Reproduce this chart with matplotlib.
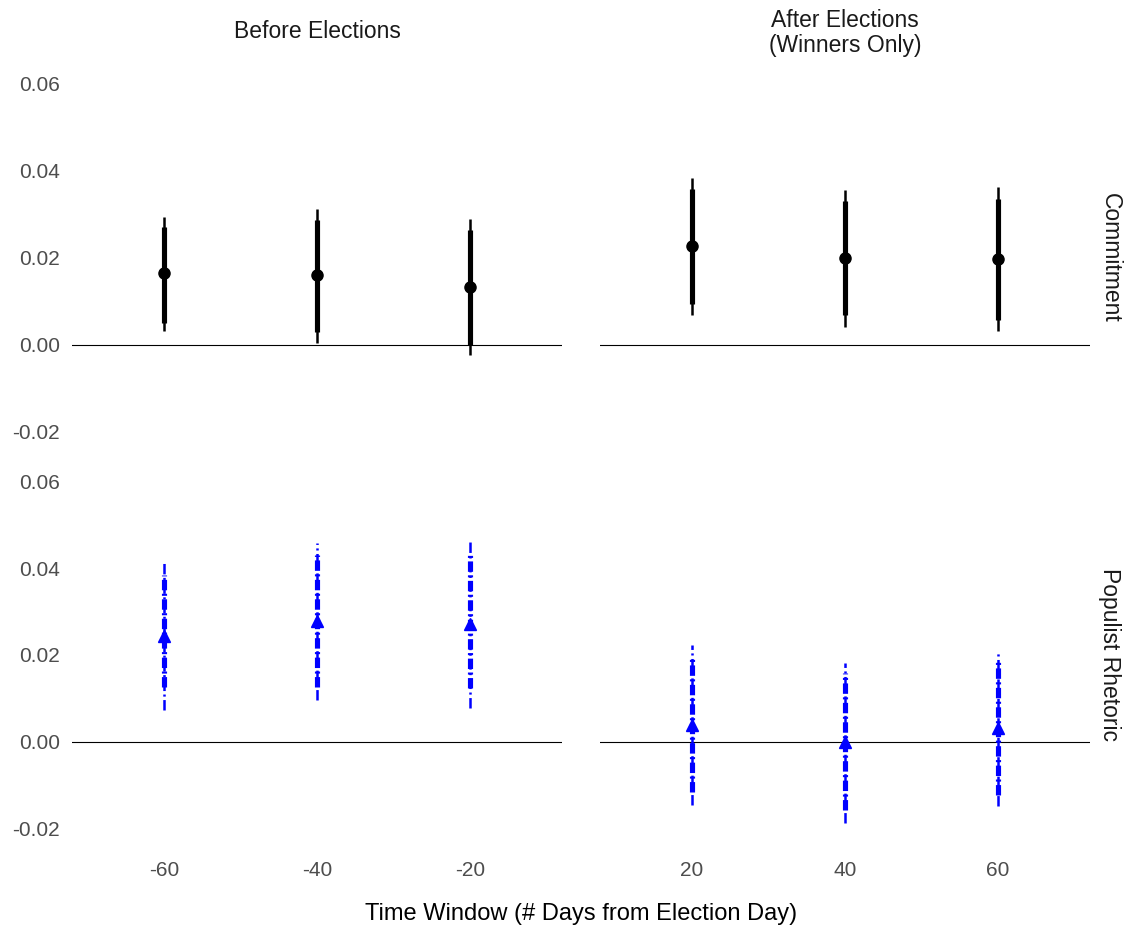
import matplotlib
matplotlib.use("Agg")
import matplotlib.pyplot as plt

plt.rcParams['font.family'] = ['Liberation Sans', 'DejaVu Sans']
plt.rcParams['lines.scale_dashes'] = False

# datos
dias_antes = [-60, -40, -20]
dias_despues = [20, 40, 60]

# Commitment: estimacion, IC interno (bajo, alto), IC externo (bajo, alto)
com_antes = [0.0165, 0.0161, 0.0133]
com_antes_in = [(0.0051, 0.0271), (0.0030, 0.0287), (0.0000, 0.0264)]
com_antes_out = [(0.0032, 0.0294), (0.0005, 0.0313), (-0.0023, 0.0290)]
com_despues = [0.0228, 0.0200, 0.0198]
com_despues_in = [(0.0094, 0.0359), (0.0069, 0.0331), (0.0057, 0.0336)]
com_despues_out = [(0.0069, 0.0384), (0.0041, 0.0356), (0.0032, 0.0363)]

# Populist Rhetoric
pop_antes = [0.0244, 0.0278, 0.0272]
pop_antes_in = [(0.0126, 0.0384), (0.0126, 0.0430), (0.0124, 0.0434)]
pop_antes_out = [(0.0074, 0.0411), (0.0097, 0.0457), (0.0078, 0.0460)]
pop_despues = [0.0039, 0.0000, 0.0032]
pop_despues_in = [(-0.0115, 0.0196), (-0.0156, 0.0159), (-0.0122, 0.0184)]
pop_despues_out = [(-0.0145, 0.0223), (-0.0186, 0.0182), (-0.0149, 0.0207)]

y_ticks = [-0.02, 0.00, 0.02, 0.04, 0.06]
y_labels = ["-0.02", "0.00", "0.02", "0.04", "0.06"]

fig = plt.figure(figsize=(11.29, 9.34), dpi=100)

W, H = 1129, 934
def caja(x0, x1, y0, y1):
    return [x0 / W, 1 - y1 / H, (x1 - x0) / W, (y1 - y0) / H]

ax_tl = fig.add_axes(caja(72, 562, 66.6, 449))
ax_tr = fig.add_axes(caja(600, 1090, 66.6, 449))
ax_bl = fig.add_axes(caja(72, 562, 464, 846))
ax_br = fig.add_axes(caja(600, 1090, 464, 846))

patron = (0, (7.5, 2.5, 1.5, 2.5))

def panel(ax, x, est, ic_in, ic_out, color, marker, ms, estilo):
    ax.axhline(0, color='black', linewidth=0.8, zorder=1)
    for xi, e, (a, b), (c, d) in zip(x, est, ic_in, ic_out):
        ax.plot([xi, xi], [c, d], color=color, linewidth=1.8, linestyle=estilo,
                solid_capstyle='butt', dash_capstyle='butt', zorder=2)
        ax.plot([xi, xi], [a, b], color=color, linewidth=3.7, linestyle=estilo,
                solid_capstyle='butt', dash_capstyle='butt', zorder=3)
        ax.plot(xi, e, marker=marker, color=color, markersize=ms, zorder=4,
                linestyle='none')
    ax.set_ylim(-0.024, 0.064)
    for s in ax.spines.values():
        s.set_visible(False)
    ax.tick_params(length=0, labelsize=15, labelcolor='#4D4D4D')
    ax.tick_params(axis='y', pad=8.5)
    ax.tick_params(axis='x', pad=11)

panel(ax_tl, dias_antes, com_antes, com_antes_in, com_antes_out, 'black', 'o', 8, '-')
panel(ax_tr, dias_despues, com_despues, com_despues_in, com_despues_out, 'black', 'o', 8, '-')
panel(ax_bl, dias_antes, pop_antes, pop_antes_in, pop_antes_out, 'blue', '^', 9, patron)
panel(ax_br, dias_despues, pop_despues, pop_despues_in, pop_despues_out, 'blue', '^', 9, patron)

for ax in (ax_tl, ax_bl):
    ax.set_xlim(-72, -8)
    ax.set_yticks(y_ticks)
    ax.set_yticklabels(y_labels)
for ax in (ax_tr, ax_br):
    ax.set_xlim(8, 72)
    ax.set_yticks([])
for ax in (ax_tl, ax_tr):
    ax.set_xticks([])
ax_bl.set_xticks(dias_antes)
ax_bl.set_xticklabels([str(d) for d in dias_antes])
ax_br.set_xticks(dias_despues)
ax_br.set_xticklabels([str(d) for d in dias_despues])

# titulos de las facetas
fig.text(317 / W, 1 - 32 / H, "Before Elections", ha='center', va='center',
         fontsize=16.5, color='#1A1A1A')
fig.text(845 / W, 1 - 33 / H, "After Elections\n(Winners Only)", ha='center',
         va='center', fontsize=16.5, color='#1A1A1A', linespacing=1.1)
fig.text(1110 / W, 1 - 258 / H, "Commitment", ha='center', va='center',
         rotation=-90, fontsize=16.5, color='#1A1A1A')
fig.text(1110 / W, 1 - 655 / H, "Populist Rhetoric", ha='center', va='center',
         rotation=-90, fontsize=16.5, color='#1A1A1A')
fig.text(581 / W, 1 - 914 / H, "Time Window (# Days from Election Day)",
         ha='center', va='center', fontsize=17, color='black')

fig.savefig("out.png", dpi=100, facecolor='white')
